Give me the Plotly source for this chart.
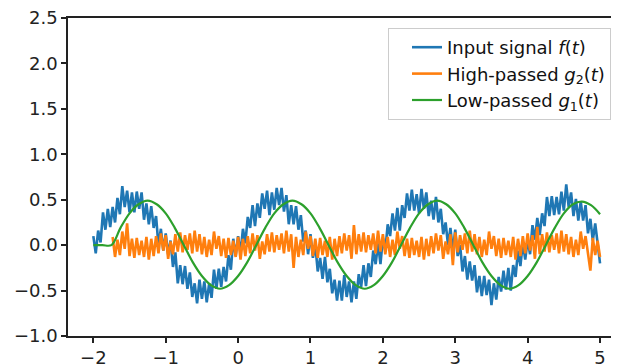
import numpy as np
import plotly.graph_objects as go

# Sample grid for the noisy signals (t from -2 to 5)
T_START, T_END, N_SAMPLES = -2.0, 5.0, 211

# Input signal f(t)
input_signal = [
    .10, -.09, .16, .03, .36, .17, .40, .20, .42, .25,
    .52, .34, .65, .42, .60, .36, .58, .36, .59, .40,
    .58, .28, .46, .23, .43, .19, .32, -.01, .18, -.06,
    .13, -.10, .05, -.24, -.08, -.42, -.22, -.43, -.23, -.48,
    -.30, -.57, -.42, -.64, -.38, -.59, -.40, -.63, -.42, -.58,
    -.27, -.48, -.26, -.46, -.24, -.40, -.11, -.27, .07, -.12,
    .10, -.09, .18, .02, .31, .19, .44, .21, .46, .30,
    .57, .40, .60, .33, .58, .39, .63, .44, .63, .37,
    .55, .23, .44, .23, .43, .17, .33, .04, .16, -.10,
    .12, -.14, .00, -.29, -.14, -.37, -.13, -.41, -.26, -.53,
    -.38, -.61, -.39, -.61, -.33, -.57, -.40, -.63, -.40, -.59,
    -.32, -.46, -.22, -.45, -.20, -.35, -.06, -.21, .02, -.21,
    .08, -.06, .23, .10, .35, .16, .41, .16, .44, .30,
    .57, .38, .61, .38, .56, .35, .62, .40, .58, .32,
    .49, .28, .53, .25, .40, .12, .25, .00, .19, -.07,
    .17, -.12, .00, -.29, -.12, -.38, -.18, -.39, -.22, -.52,
    -.34, -.56, -.34, -.55, -.38, -.66, -.42, -.60, -.35, -.51,
    -.28, -.49, -.25, -.50, -.22, -.35, -.06, -.23, .03, -.16,
    .06, -.10, .22, .06, .30, .11, .35, .21, .53, .32,
    .54, .33, .53, .34, .59, .38, .67, .42, .58, .32,
    .51, .27, .48, .27, .44, .13, .29, .05, .24, -.01,
    -.20,
]

# High-passed g2(t): starts at sample index 8
HP_START_INDEX = 8
high_passed = [
    .09, -.13, .06, -.11, .15, -.04, .24, -.12, .07, -.14,
    .08, -.11, .05, -.13, .09, -.16, .07, -.12, .10, -.09,
    .13, -.06, .11, -.15, .04, -.10, .12, -.07, .14, -.08,
    .11, -.05, .13, -.09, .16, -.07, .12, -.10, .09, -.13,
    .06, -.11, .15, -.04, .10, -.12, .07, -.14, .08, -.11,
    .05, -.13, .09, -.16, .07, -.12, .10, -.09, .13, -.06,
    .11, -.15, .04, -.10, .12, -.07, .14, -.08, .11, -.05,
    .13, -.09, .16, -.07, .12, -.25, .09, -.13, .06, -.11,
    .15, -.04, .10, -.12, .07, -.14, .08, -.11, .05, -.13,
    .09, -.16, .07, -.12, .10, -.09, .13, -.06, .11, -.15,
    .22, -.10, .12, -.07, .14, -.08, .11, -.05, .13, -.09,
    .16, -.07, .12, -.10, .09, -.13, .06, -.11, .15, -.04,
    .10, -.12, .07, -.14, .08, -.11, .05, -.13, .09, -.16,
    .07, -.12, .10, -.09, .13, -.06, .11, -.15, .04, -.10,
    .12, -.22, .14, -.08, .11, -.05, .13, -.09, .16, -.07,
    .12, -.10, .09, -.13, .06, -.11, .15, -.04, .10, -.12,
    .07, -.14, .08, -.11, .05, -.13, .09, -.16, .07, -.12,
    .10, -.09, .13, -.06, .11, -.15, .20, -.10, .12, -.07,
    .14, -.08, .11, -.05, .13, -.09, .16, -.07, .12, -.10,
    .09, -.13, .06, -.11, .15, -.04, .10, -.12, -.28, .08,
    -.11, .05, -.13,
]

# Low-passed g1(t) on a coarser grid
LP_T = [-2.0 + 0.125 * i for i in range(57)]
low_passed = [
    0, 0, 0, .19, .35, .45, .49, .45, .35, .19,
    0, -.19, -.34, -.44, -.48, -.44, -.34, -.19, 0, .19,
    .35, .45, .49, .45, .35, .19, 0, -.19, -.34, -.44,
    -.48, -.44, -.34, -.19, 0, .19, .35, .45, .49, .45,
    .35, .19, 0, -.19, -.34, -.44, -.48, -.44, -.34, -.19,
    0, .19, .35, .45, .48, .44, .34,
]

X_TICKS = [-2, -1, 0, 1, 2, 3, 4, 5]
Y_TICKS = [-1.0, -0.5, 0.0, 0.5, 1.0, 1.5, 2.0, 2.5]

t = np.linspace(T_START, T_END, N_SAMPLES)

fig = go.Figure()
fig.add_trace(go.Scatter(x=t, y=input_signal, mode="lines",
                         line=dict(color="#1f77b4", width=2.6),
                         name="Input signal <i>f</i>(<i>t</i>)"))
fig.add_trace(go.Scatter(x=t[HP_START_INDEX:], y=high_passed, mode="lines",
                         line=dict(color="#ff7f0e", width=2.6),
                         name="High-passed <i>g</i><sub>2</sub>(<i>t</i>)"))
fig.add_trace(go.Scatter(x=LP_T, y=low_passed, mode="lines",
                         line=dict(color="#2ca02c", width=2.2, shape="spline"),
                         name="Low-passed <i>g</i><sub>1</sub>(<i>t</i>)"))

fig.update_layout(
    width=611, height=356,
    margin=dict(l=60, r=0, t=10, b=28, autoexpand=False),
    plot_bgcolor="white", paper_bgcolor="white",
    font=dict(family="DejaVu Sans", size=18, color="#222"),
    showlegend=True,
    legend=dict(x=(388 - 68) / 551, y=(336 - 28) / 318,
                xanchor="left", yanchor="top",
                bgcolor="rgba(255,255,255,0.8)", bordercolor="#cccccc",
                borderwidth=1, font=dict(size=18, color="#111"),
                indentation=18, tracegroupgap=0),
    xaxis=dict(range=[-2.35, 5.262], tickvals=X_TICKS, automargin=False,
               ticklabeloverflow="allow",
               showline=True, linecolor="#222", linewidth=1.5, mirror=True,
               ticks="outside", ticklen=5, tickwidth=1.5, tickcolor="#222",
               showgrid=False, zeroline=False),
    yaxis=dict(range=[-1.0, 2.5], tickvals=Y_TICKS, tickformat=".1f",
               automargin=False, ticklabeloverflow="allow",
               showline=True, linecolor="#222", linewidth=1.5,
               ticks="outside", ticklen=5, tickwidth=1.5, tickcolor="#222",
               showgrid=False, zeroline=False),
)

fig.write_html("out.html")
